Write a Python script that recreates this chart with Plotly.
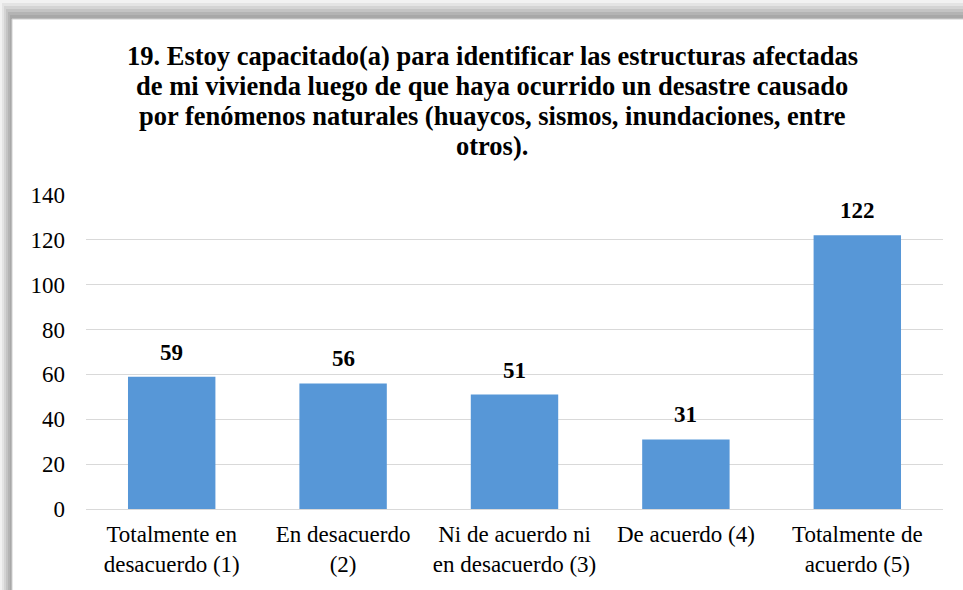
import plotly.graph_objects as go

categorias = [
    "Totalmente en<br>desacuerdo (1)",
    "En desacuerdo<br>(2)",
    "Ni de acuerdo ni<br>en desacuerdo (3)",
    "De acuerdo (4)",
    "Totalmente de<br>acuerdo (5)",
]
respuestas = [59, 56, 51, 31, 122]
y_ticks = [0, 20, 40, 60, 80, 100, 120, 140]

titulo = [
    "19. Estoy capacitado(a) para identificar las estructuras afectadas",
    "de mi vivienda luego de que haya ocurrido un desastre causado",
    "por fenómenos naturales (huaycos, sismos, inundaciones, entre",
    "otros).",
]

W, H = 963, 590
ML, MR, MT, MB = 86, 20, 195, 81
FONT = "'Liberation Serif', 'Times New Roman', Times, serif"


def px_x(p):
    return (p - ML) / (W - ML - MR)


def px_y(p):
    return 1 - (p - MT) / (H - MT - MB)


fig = go.Figure()
fig.add_trace(go.Bar(
    x=categorias,
    y=respuestas,
    marker=dict(color="#5797d7", line=dict(width=0)),
    cliponaxis=False,
))

# etiquetas de datos
for c, v in zip(categorias, respuestas):
    fig.add_annotation(x=c, y=v, text="<b>%d</b>" % v, showarrow=False,
                       yanchor="bottom", yshift=10,
                       font=dict(family=FONT, size=23, color="black"))

# título, una línea por anotación
for i, linea in enumerate(titulo):
    fig.add_annotation(x=px_x(492), y=px_y(56 + 30 * i), xref="paper", yref="paper",
                       text="<b>%s</b>" % linea, showarrow=False,
                       xanchor="center", yanchor="middle",
                       font=dict(family=FONT, size=26.5, color="black"))

# marco con sombra (franjas grises arriba e izquierda)
shapes = []
grays = ["#f2f2f2", "#e4e4e4", "#d4d4d4", "#c4c4c4", "#b4b4b4", "#a8a8a8"]
for i, g in enumerate(grays):
    shapes.append(dict(type="rect", xref="paper", yref="paper", layer="below",
                       x0=px_x(i * 2), x1=px_x(W), y0=px_y(i * 3), y1=px_y(H),
                       fillcolor=g, line=dict(width=0)))
shapes.append(dict(type="rect", xref="paper", yref="paper", layer="below",
                   x0=px_x(12), x1=px_x(W + 5), y0=px_y(19), y1=px_y(H + 5),
                   fillcolor="white", line=dict(color="#d0d0d0", width=1)))

fig.update_layout(
    width=W, height=H,
    margin=dict(l=ML, r=MR, t=MT, b=MB),
    paper_bgcolor="white",
    plot_bgcolor="white",
    font=dict(family=FONT, size=23, color="black"),
    bargap=0.49,
    showlegend=False,
    shapes=shapes,
)
fig.update_yaxes(range=[0, 140], tickvals=y_ticks, showgrid=True, gridcolor="#d9d9d9",
                 gridwidth=1, zeroline=False, showline=False, ticks="",
                 ticklabelstandoff=20, tickfont=dict(family=FONT, size=23))
fig.update_xaxes(showline=True, linecolor="#d9d9d9", linewidth=1, ticks="",
                 ticklabelstandoff=4, tickfont=dict(family=FONT, size=23))

fig.write_html("out.html", config={"displayModeBar": False},
               post_script="document.body.style.margin='0';")
